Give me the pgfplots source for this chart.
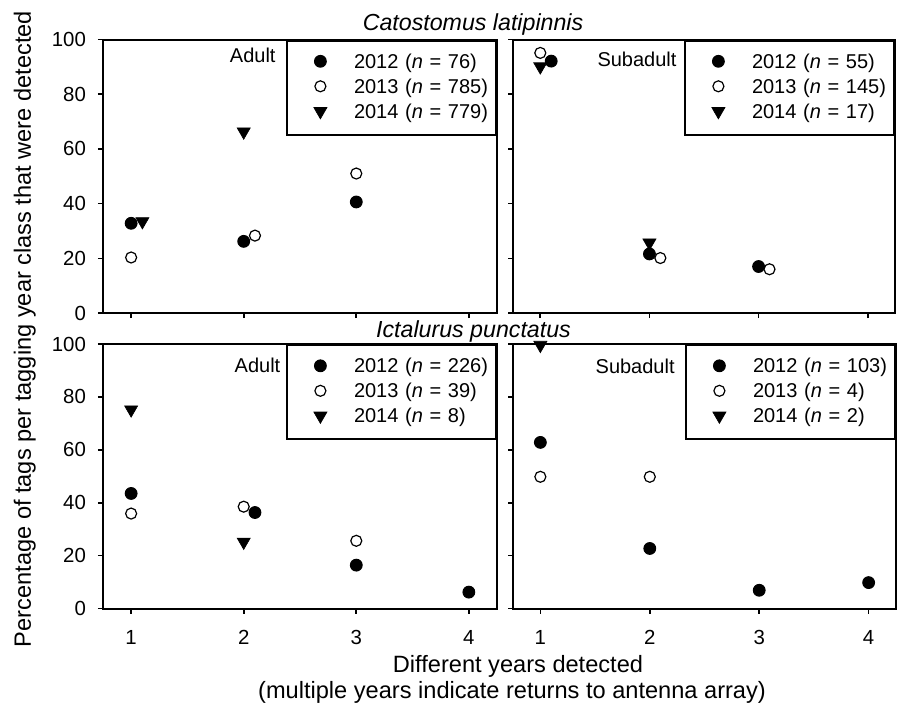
\documentclass[border=0pt]{standalone}
\usepackage{pgfplots}
\pgfplotsset{compat=1.18}
\usepackage{fontspec}
\setmainfont{Liberation Sans}

\pgfplotsset{
  panel/.style={
    scale only axis,
    xmin=0.75, xmax=4.25, ymin=0, ymax=100,
    xtick={1,2,3,4}, ytick={0,20,40,60,80,100},
    tick align=outside, tick pos=left,
    major tick length=2.5pt,
    axis line style={line width=1pt},
    every tick/.style={line width=0.8pt, black},
    ticklabel style={font=\fontsize{10.2}{12}\selectfont},
    xticklabel style={yshift=-5pt},
    yticklabel style={xshift=-2.5pt},
    /pgf/number format/assume math mode=true,
    clip=false,
    legend cell align=left,
    legend style={at={(1,1)}, anchor=north east, draw=black, line width=1pt,
      inner xsep=0pt, inner ysep=4.75pt, row sep=0pt, column sep=0pt,
      font=\fontsize{10}{12}\selectfont,
      nodes={text width=71pt, inner sep=0pt, minimum height=12.5pt}},
    legend image code/.code={\path (-16.5pt,0pt) (16.5pt,0pt); \draw[##1] plot coordinates {(0pt,0.6pt)};},
  },
  s12/.style={only marks, mark=*, mark size=2.95pt, line width=0.5pt, draw=black, fill=black, mark options={draw=black, fill=black}},
  s13/.style={only marks, mark=*, mark size=2.75pt, line width=0.6pt, draw=black, fill=white, mark options={draw=black, fill=white}},
  s14/.style={only marks, mark=triangle*, mark size=3.8pt, line width=0.3pt, draw=black, fill=black, mark options={draw=black, fill=black, rotate=180}},
}

\begin{document}
\begin{tikzpicture}[font=\fontsize{10}{12}\selectfont]
\useasboundingbox (0pt,0pt) rectangle (449pt,-354.5pt);

% Top left: Catostomus adult
\begin{axis}[panel, at={(51.5pt,-19.75pt)}, anchor=north west, width=197pt, height=136.75pt, xticklabels={}]
\addplot[s12] coordinates {(1,32.8) (2,26.2) (3,40.6)};
\addlegendentry{2012 (\textit{n} = 76)}
\addplot[s13] coordinates {(1,20.3) (2.1,28.3) (3,51.0)};
\addlegendentry{2013 (\textit{n} = 785)}
\addplot[s14] coordinates {(1.1,33.5) (2,66.3)};
\addlegendentry{2014 (\textit{n} = 779)}
\node[anchor=east, inner sep=0pt] at (rel axis cs:0.439,0.943) {Adult};
\end{axis}

% Top right: Catostomus subadult
\begin{axis}[panel, at={(256.5pt,-19.75pt)}, anchor=north west, width=191pt, height=136.75pt, xticklabels={}, yticklabels={}]
\addplot[s12] coordinates {(1.1,92.1) (2,21.6) (3,17.0)};
\addlegendentry{2012 (\textit{n} = 55)}
\addplot[s13] coordinates {(1,95.1) (2.1,20.1) (3.1,16.0)};
\addlegendentry{2013 (\textit{n} = 145)}
\addplot[s14] coordinates {(1,90.1) (2,25.7)};
\addlegendentry{2014 (\textit{n} = 17)}
\node[anchor=east, inner sep=0pt] at (rel axis cs:0.429,0.927) {Subadult};
\end{axis}

% Bottom left: Ictalurus adult
\begin{axis}[panel, at={(51.5pt,-172pt)}, anchor=north west, width=197pt, height=132.25pt]
\addplot[s12] coordinates {(1,43.5) (2.1,36.3) (3,16.4) (4,6.2)};
\addlegendentry{2012 (\textit{n} = 226)}
\addplot[s13] coordinates {(1,35.9) (2,38.5) (3,25.6)};
\addlegendentry{2013 (\textit{n} = 39)}
\addplot[s14] coordinates {(1,75.2) (2,25.2)};
\addlegendentry{2014 (\textit{n} = 8)}
\node[anchor=east, inner sep=0pt] at (rel axis cs:0.451,0.921) {Adult};
\end{axis}

% Bottom right: Ictalurus subadult
\begin{axis}[panel, at={(256.5pt,-172pt)}, anchor=north west, width=191.5pt, height=132.25pt, yticklabels={}]
\addplot[s12] coordinates {(1,62.8) (2,22.7) (3,6.9) (4,9.8)};
\addlegendentry{2012 (\textit{n} = 103)}
\addplot[s13] coordinates {(1,49.8) (2,49.8)};
\addlegendentry{2013 (\textit{n} = 4)}
\addplot[s14] coordinates {(1,99.6)};
\addlegendentry{2014 (\textit{n} = 2)}
\node[anchor=east, inner sep=0pt] at (rel axis cs:0.423,0.917) {Subadult};
\end{axis}

\node[anchor=base, inner sep=0pt, font=\fontsize{11.6}{14}\selectfont\itshape] at (236.5pt,-15pt) {Catostomus latipinnis};
\node[anchor=base, inner sep=0pt, font=\fontsize{11.6}{14}\selectfont\itshape] at (236.75pt,-168.7pt) {Ictalurus punctatus};
\node[anchor=base, inner sep=0pt, font=\fontsize{11.8}{14}\selectfont] at (259pt,-336.3pt) {Different years detected};
\node[anchor=base, inner sep=0pt, font=\fontsize{11.8}{14}\selectfont] at (256pt,-349pt) {(multiple years indicate returns to antenna array)};
\node[anchor=base, inner sep=0pt, rotate=90, font=\fontsize{11.8}{14}\selectfont] at (15.5pt,-164.5pt) {Percentage of tags per tagging year class that were detected};
\end{tikzpicture}
\end{document}
